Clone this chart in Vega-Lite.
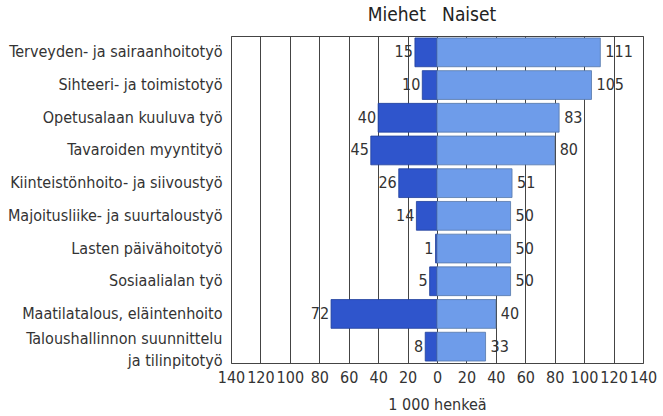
{
  "$schema": "https://vega.github.io/schema/vega-lite/v6.json",
  "width": 412,
  "height": 327,
  "autosize": {"type": "none"},
  "padding": {"left": 231, "top": 36, "right": 20, "bottom": 53},
  "title": {"text": "Miehet\u00a0\u00a0\u00a0Naiset", "anchor": "middle", "fontSize": 19, "font": "DejaVu Sans Condensed", "fontWeight": "normal", "color": "#222", "offset": 11, "dx": -5},
  "config": {
    "view": {"stroke": "#444", "strokeWidth": 1},
    "font": "DejaVu Sans Condensed",
    "text": {"font": "DejaVu Sans Condensed"}
  },
  "data": {
    "values": [
      {"ammatti": "Terveyden- ja sairaanhoitotyö", "sukupuoli": "Miehet", "henkea": 15},
      {"ammatti": "Terveyden- ja sairaanhoitotyö", "sukupuoli": "Naiset", "henkea": 111},
      {"ammatti": "Sihteeri- ja toimistotyö", "sukupuoli": "Miehet", "henkea": 10},
      {"ammatti": "Sihteeri- ja toimistotyö", "sukupuoli": "Naiset", "henkea": 105},
      {"ammatti": "Opetusalaan kuuluva työ", "sukupuoli": "Miehet", "henkea": 40},
      {"ammatti": "Opetusalaan kuuluva työ", "sukupuoli": "Naiset", "henkea": 83},
      {"ammatti": "Tavaroiden myyntityö", "sukupuoli": "Miehet", "henkea": 45},
      {"ammatti": "Tavaroiden myyntityö", "sukupuoli": "Naiset", "henkea": 80},
      {"ammatti": "Kiinteistönhoito- ja siivoustyö", "sukupuoli": "Miehet", "henkea": 26},
      {"ammatti": "Kiinteistönhoito- ja siivoustyö", "sukupuoli": "Naiset", "henkea": 51},
      {"ammatti": "Majoitusliike- ja suurtaloustyö", "sukupuoli": "Miehet", "henkea": 14},
      {"ammatti": "Majoitusliike- ja suurtaloustyö", "sukupuoli": "Naiset", "henkea": 50},
      {"ammatti": "Lasten päivähoitotyö", "sukupuoli": "Miehet", "henkea": 1},
      {"ammatti": "Lasten päivähoitotyö", "sukupuoli": "Naiset", "henkea": 50},
      {"ammatti": "Sosiaalialan työ", "sukupuoli": "Miehet", "henkea": 5},
      {"ammatti": "Sosiaalialan työ", "sukupuoli": "Naiset", "henkea": 50},
      {"ammatti": "Maatilatalous, eläintenhoito", "sukupuoli": "Miehet", "henkea": 72},
      {"ammatti": "Maatilatalous, eläintenhoito", "sukupuoli": "Naiset", "henkea": 40},
      {"ammatti": "Taloushallinnon suunnittelu ja tilinpitotyö", "sukupuoli": "Miehet", "henkea": 8},
      {"ammatti": "Taloushallinnon suunnittelu ja tilinpitotyö", "sukupuoli": "Naiset", "henkea": 33}
    ]
  },
  "transform": [
    {"calculate": "datum.sukupuoli == 'Miehet' ? -datum.henkea : datum.henkea", "as": "arvo"}
  ],
  "encoding": {
    "x": {
      "field": "arvo", "type": "quantitative",
      "scale": {"domain": [-140, 140], "nice": false},
      "axis": {
        "values": [-140, -120, -100, -80, -60, -40, -20, 0, 20, 40, 60, 80, 100, 120, 140],
        "labelExpr": "abs(datum.value)",
        "ticks": false, "domain": false, "grid": true, "gridColor": "#444", "gridOpacity": 1, "gridWidth": 1,
        "labelFontSize": 16, "labelColor": "#333", "labelPadding": 6, "labelFlush": false, "labelOverlap": false, "labelBound": false,
        "title": "1 000 henkeä", "titleFontSize": 16, "titleFontWeight": "normal", "titleColor": "#333", "titlePadding": 11
      }
    }
  },
  "layer": [
    {
      "mark": {"type": "bar", "strokeWidth": 0.8},
      "encoding": {
        "y": {
          "field": "ammatti", "type": "nominal", "sort": null,
          "scale": {"paddingInner": 0.12, "paddingOuter": 0.06},
          "axis": {
            "title": null, "domain": false, "ticks": false, "grid": false,
            "labelFontSize": 16, "labelPadding": 9, "labelColor": "#333", "labelLimit": 0, "labelLineHeight": 22,
            "labelOffset": {"condition": {"test": "datum.value == 'Taloushallinnon suunnittelu ja tilinpitotyö'", "value": -8}, "value": 0},
            "labelExpr": "datum.label == 'Taloushallinnon suunnittelu ja tilinpitotyö' ? ['Taloushallinnon suunnittelu', 'ja tilinpitotyö'] : datum.label"
          }
        },
        "color": {
          "field": "sukupuoli", "type": "nominal",
          "scale": {"domain": ["Miehet", "Naiset"], "range": ["#2f55cc", "#6e9cea"]},
          "legend": null
        },
        "stroke": {
          "field": "sukupuoli", "type": "nominal",
          "scale": {"domain": ["Miehet", "Naiset"], "range": ["#1f3f9a", "#5577aa"]},
          "legend": null
        }
      }
    },
    {
      "data": {"values": [{}]},
      "mark": {"type": "rule", "color": "#333", "strokeWidth": 1},
      "encoding": {"x": {"datum": 0}}
    },
    {
      "transform": [{"filter": "datum.sukupuoli == 'Miehet'"}],
      "mark": {"type": "text", "align": "right", "baseline": "middle", "dx": -2, "fontSize": 16, "color": "#333"},
      "encoding": {
        "y": {"field": "ammatti", "type": "nominal", "sort": null},
        "text": {"field": "henkea", "type": "quantitative"}
      }
    },
    {
      "transform": [{"filter": "datum.sukupuoli == 'Naiset'"}],
      "mark": {"type": "text", "align": "left", "baseline": "middle", "dx": 5, "fontSize": 16, "color": "#333"},
      "encoding": {
        "y": {"field": "ammatti", "type": "nominal", "sort": null},
        "text": {"field": "henkea", "type": "quantitative"}
      }
    }
  ]
}
